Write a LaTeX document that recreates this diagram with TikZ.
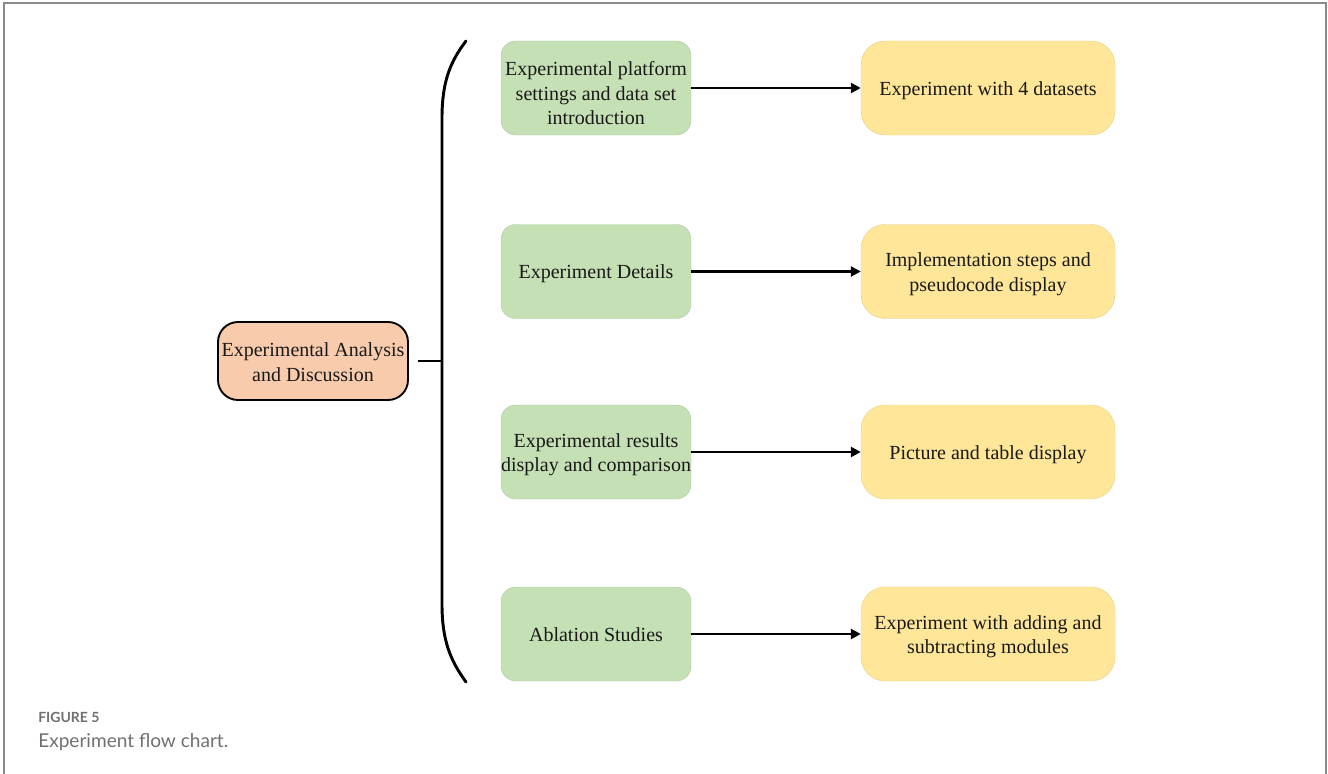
\documentclass[tikz,border=0pt]{standalone}
\usepackage{fontspec}
\setmainfont{Liberation Serif}
\newfontfamily\boxfont{Liberation Serif}
\newfontfamily\capfont{Lato}
\usetikzlibrary{arrows.meta}
\definecolor{rootfill}{HTML}{F8CBAD}
\definecolor{stepfill}{HTML}{C5E0B4}
\definecolor{resfill}{HTML}{FFE699}
\definecolor{framegray}{HTML}{8A8A8A}
\definecolor{capgray}{HTML}{707070}
\tikzset{
  boxtext/.style={align=center,font=\boxfont\fontsize{15}{18.4}\selectfont,text=black!90,inner sep=0pt},
  rootbox/.style={draw=black,line width=1.4pt,fill=rootfill,rounded corners=15pt,
    minimum width=142.5pt,minimum height=58.5pt,inner sep=0pt},
  stepbox/.style={fill=stepfill,draw=stepfill!90!black,line width=0.3pt,rounded corners=11pt,
    minimum width=142.5pt,minimum height=70.5pt,inner sep=0pt},
  resbox/.style={fill=resfill,draw=resfill!90!black,line width=0.3pt,rounded corners=18pt,
    minimum width=190.5pt,minimum height=70.5pt,inner sep=0pt},
  flow/.style={line width=2pt,-{Triangle[length=7.5pt,width=7.5pt]}},
  brace/.style={line width=2.2pt,line cap=round},
}
\begin{document}
\begin{tikzpicture}[x=0.75pt,y=-0.75pt]
\useasboundingbox (0,0) rectangle (1328,774);
% outer frame (open at the bottom)
\draw[framegray,line width=1.5pt] (4,774) -- (4,3) -- (1326,3) -- (1326,774);

% root topic
\node[rootbox] (root) at (313,361) {};
\node[boxtext] (roott) at ([yshift=-0.8pt]root.center) {Experimental Analysis\\and Discussion};

% second-level steps
\node[stepbox] (s1) at (596,88)    {};
\node[stepbox] (s2) at (596,271.5) {};
\node[stepbox] (s3) at (596,452)   {};
\node[stepbox] (s4) at (596,634)   {};
\node[boxtext] (s1t) at ([yshift=-3.8pt]s1.center) {Experimental platform\\settings and data set\\introduction};
\node[boxtext] (s2t) at ([yshift=-1.5pt]s2.center) {Experiment Details};
\node[boxtext] (s3t) at ([yshift=-2.2pt]s3.center) {Experimental results\\display and comparison};
\node[boxtext] (s4t) at ([yshift=-0.8pt]s4.center) {Ablation Studies};

% outcomes
\node[resbox] (r1) at (988,88)    {};
\node[resbox] (r2) at (988,271.5) {};
\node[resbox] (r3) at (988,452)   {};
\node[resbox] (r4) at (988,634)   {};
\node[boxtext] (r1t) at ([yshift=-2.2pt]r1.center) {Experiment with 4 datasets};
\node[boxtext] (r2t) at ([yshift=-2.2pt]r2.center) {Implementation steps and\\pseudocode display};
\node[boxtext] (r3t) at ([yshift=-1.8pt]r3.center) {Picture and table display};
\node[boxtext] (r4t) at ([yshift=-2.2pt]r4.center) {Experiment with adding and\\subtracting modules};

% bracket grouping the steps
\coordinate (btop) at (466,41);
\coordinate (bbot) at (466,682);
\coordinate (bmid) at (442,361);
\coordinate (rootout) at (418,361);
\draw[brace] (btop) .. controls (450,62) and (442,82) .. (442,118)
  -- (442,604) .. controls (442,640) and (450,660) .. (bbot);
\draw[line width=2.2pt] (rootout) -- (bmid);

% connectors
\foreach \i in {1,2,3,4}
  \draw[flow] (s\i.east) -- (r\i.west);

% caption
\node[anchor=base west,inner sep=0pt,text=capgray,font=\capfont\fontsize{10.5}{12}\selectfont\bfseries] (fig) at (38,722) {FIGURE 5};
\node[anchor=base west,inner sep=0pt,text=capgray,font=\capfont\fontsize{14.3}{16}\selectfont] (cap) at (38,747) {Experiment flow chart.};
\end{tikzpicture}
\end{document}
